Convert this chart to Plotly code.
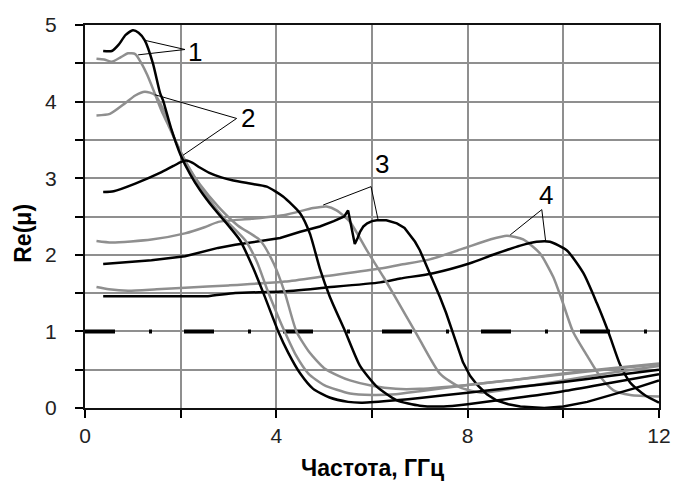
import plotly.graph_objects as go

# ---------------- data ----------------
b1_x = [0.38, 0.56, 0.7, 0.85, 1.0, 1.12, 1.25, 1.42, 1.57, 1.63, 1.8, 2.0, 2.2, 2.4, 2.7, 3.0, 3.24, 3.5, 3.73, 4.04, 4.25, 4.5, 4.77, 5.1, 5.5, 5.8, 6.5, 7.0, 8.0, 9.0, 10.0, 11.0, 12.0]
b1_y = [4.66, 4.66, 4.74, 4.87, 4.93, 4.9, 4.8, 4.5, 4.11, 4.02, 3.65, 3.3, 3.05, 2.85, 2.6, 2.38, 2.19, 1.85, 1.5, 1.0, 0.72, 0.45, 0.25, 0.14, 0.08, 0.07, 0.1, 0.13, 0.2, 0.27, 0.34, 0.42, 0.5]

g1_x = [0.24, 0.4, 0.56, 0.75, 0.9, 1.05, 1.18, 1.3, 1.45, 1.6, 1.75, 1.9, 2.1, 2.3, 2.6, 2.9, 3.35, 3.6, 3.8, 4.0, 4.15, 4.4, 4.67, 5.0, 5.54, 6.0, 6.5, 7.0, 8.0, 9.0, 10.0, 11.0, 12.0]
g1_y = [4.56, 4.55, 4.52, 4.58, 4.63, 4.62, 4.5, 4.35, 4.12, 3.88, 3.68, 3.48, 3.22, 3.0, 2.72, 2.48, 2.19, 1.9, 1.56, 1.25, 1.03, 0.7, 0.45, 0.3, 0.19, 0.17, 0.18, 0.22, 0.3, 0.37, 0.44, 0.51, 0.57]

g2_x = [0.24, 0.52, 0.84, 1.05, 1.25, 1.46, 1.67, 1.88, 2.16, 2.4, 2.8, 3.2, 3.66, 3.95, 4.18, 4.42, 4.7, 5.0, 5.3, 5.54, 6.0, 6.5, 7.0, 8.0, 9.0, 10.0, 11.0, 12.0]
g2_y = [3.82, 3.84, 3.98, 4.08, 4.13, 4.09, 3.85, 3.5, 3.15, 2.92, 2.62, 2.38, 2.19, 1.88, 1.5, 1.0, 0.72, 0.52, 0.42, 0.36, 0.29, 0.25, 0.25, 0.3, 0.37, 0.45, 0.52, 0.58]

b2_x = [0.38, 0.6, 1.05, 1.6, 1.85, 2.0, 2.12, 2.25, 2.4, 2.6, 2.85, 3.1, 3.45, 3.8, 4.14, 4.5, 4.7, 4.91, 5.12, 5.44, 5.75, 6.1, 6.52, 7.0, 7.5, 8.0, 9.0, 10.0, 11.0, 12.0]
b2_y = [2.82, 2.83, 2.93, 3.08, 3.16, 3.21, 3.23, 3.2, 3.14, 3.07, 3.01, 2.97, 2.93, 2.89, 2.76, 2.54, 2.28, 1.82, 1.45, 1.0, 0.55, 0.28, 0.1, 0.03, 0.02, 0.05, 0.13, 0.22, 0.33, 0.44]

g3_x = [0.24, 0.56, 1.39, 2.09, 2.5, 2.79, 3.48, 4.18, 4.77, 5.05, 5.26, 5.54, 5.89, 6.24, 6.52, 6.9, 7.0, 7.42, 7.84, 8.3, 9.0, 10.0, 11.0, 12.0]
g3_y = [2.18, 2.16, 2.2, 2.28, 2.36, 2.43, 2.47, 2.52, 2.61, 2.63, 2.58, 2.43, 2.06, 1.71, 1.41, 1.0, 0.89, 0.45, 0.27, 0.2, 0.26, 0.36, 0.46, 0.55]

b3_x = [0.38, 0.8, 1.39, 2.09, 2.5, 2.78, 3.14, 3.6, 4.08, 4.5, 4.91, 5.2, 5.42, 5.5, 5.64, 5.7, 5.75, 5.82, 5.9, 6.0, 6.1, 6.3, 6.52, 6.68, 6.8, 6.9, 7.0, 7.1, 7.21, 7.32, 7.42, 7.55, 7.65, 7.78, 7.9, 8.05, 8.2, 8.4, 8.6, 8.85, 9.1, 9.6, 10.0, 10.5, 11.0, 11.5, 12.0]
b3_y = [1.88, 1.9, 1.93, 1.98, 2.04, 2.09, 2.13, 2.17, 2.22, 2.3, 2.37, 2.44, 2.5, 2.58, 2.14, 2.22, 2.3, 2.37, 2.41, 2.44, 2.45, 2.45, 2.41, 2.35, 2.26, 2.17, 2.06, 1.92, 1.76, 1.6, 1.45, 1.24, 1.05, 0.82, 0.6, 0.42, 0.3, 0.18, 0.1, 0.05, 0.02, 0.0, 0.02, 0.08, 0.17, 0.26, 0.36]

g4_x = [0.24, 0.5, 0.9, 1.5, 2.09, 3.0, 4.18, 5.0, 6.17, 6.59, 7.21, 7.9, 8.47, 8.82, 9.16, 9.51, 9.79, 9.97, 10.2, 10.5, 10.77, 11.05, 11.4, 12.0]
g4_y = [1.58, 1.55, 1.53, 1.55, 1.57, 1.6, 1.65, 1.72, 1.82, 1.87, 1.94, 2.08, 2.2, 2.25, 2.2, 2.02, 1.71, 1.41, 1.0, 0.68, 0.41, 0.23, 0.17, 0.15]

b4_x = [0.38, 1.0, 2.0, 2.57, 3.14, 4.1, 5.0, 6.17, 6.59, 7.28, 8.05, 8.53, 9.1, 9.44, 9.72, 10.07, 10.42, 10.7, 10.9, 11.0, 11.19, 11.4, 11.7, 12.0]
b4_y = [1.46, 1.46, 1.46, 1.46, 1.5, 1.52, 1.57, 1.64, 1.69, 1.76, 1.89, 2.0, 2.12, 2.17, 2.17, 2.06, 1.76, 1.37, 1.06, 0.89, 0.56, 0.33, 0.17, 0.07]

ref_x = [0, 12]
ref_y = [1, 1]

# label annotations: text positions and leader lines (end, apex, end)
label_text = ["1", "2", "3", "4"]
label_x = [2.30, 3.41, 6.20, 9.63]
label_y = [4.65, 3.79, 3.19, 2.78]
leader_x = [[1.25, 2.09, 1.11], [1.46, 3.17, 2.05], [4.98, 5.98, 6.13], [8.89, 9.55, 9.63]]
leader_y = [[4.80, 4.68, 4.61], [4.09, 3.78, 3.30], [2.65, 2.89, 2.45], [2.26, 2.59, 2.18]]

x_tickvals = [0, 2, 4, 6, 8, 10, 12]
x_ticktext = ["0", "", "4", "", "8", "", "12"]
y_tickvals = [0, 0.5, 1, 1.5, 2, 2.5, 3, 3.5, 4, 4.5, 5]
y_ticktext = ["0", "", "1", "", "2", "", "3", "", "4", "", "5"]

x_title = "Частота, ГГц"
y_title = "Re(μ)"

BLACK = "#000000"
GRAY = "#8f8f8f"
FONT = "Liberation Sans, Arial, sans-serif"

fig = go.Figure()

# reference dash-dot line at 1
fig.add_trace(go.Scatter(x=ref_x, y=ref_y, mode="lines",
                         line=dict(color=BLACK, width=4, dash="30px,34px,3px,32px"),
                         hoverinfo="skip", showlegend=False))

series = [
    (g4_x, g4_y, GRAY, "spline"),
    (b4_x, b4_y, BLACK, "spline"),
    (g3_x, g3_y, GRAY, "spline"),
    (b3_x, b3_y, BLACK, "linear"),
    (g2_x, g2_y, GRAY, "spline"),
    (g1_x, g1_y, GRAY, "spline"),
    (b2_x, b2_y, BLACK, "spline"),
    (b1_x, b1_y, BLACK, "spline"),
]
for xs, ys, col, shp in series:
    line = dict(color=col, width=2.5, shape=shp)
    if shp == "spline":
        line["smoothing"] = 0.6
    fig.add_trace(go.Scatter(x=xs, y=ys, mode="lines", line=line,
                             showlegend=False, hoverinfo="skip"))

for lx, ly in zip(leader_x, leader_y):
    fig.add_trace(go.Scatter(x=lx, y=ly, mode="lines",
                             line=dict(color=BLACK, width=1),
                             showlegend=False, hoverinfo="skip"))

for t, x, y in zip(label_text, label_x, label_y):
    fig.add_annotation(x=x, y=y, text=t, showarrow=False,
                       font=dict(family=FONT, size=26, color=BLACK))

# axis titles as paper annotations
fig.add_annotation(xref="paper", yref="paper", x=0.5, y=-0.156, text="<b>" + x_title + "</b>",
                   showarrow=False, xanchor="center", yanchor="middle",
                   font=dict(family=FONT, size=23, color=BLACK))
fig.add_annotation(xref="paper", yref="paper", x=-0.108, y=0.455, text="<b>" + y_title + "</b>",
                   showarrow=False, xanchor="center", yanchor="middle", textangle=-90,
                   font=dict(family=FONT, size=23, color=BLACK))

axis_common = dict(
    showline=True, linecolor="#111111", linewidth=2, mirror=True,
    ticks="outside", ticklen=8, tickwidth=1.5, tickcolor=BLACK,
    showgrid=True, gridcolor="#8f8f8f", gridwidth=1.5,
    zeroline=False, automargin=False,
    tickfont=dict(family=FONT, size=21, color="#222222"),
)

fig.update_xaxes(range=[0, 12], tickmode="array", tickvals=x_tickvals, ticktext=x_ticktext,
                 **axis_common)
fig.update_yaxes(range=[0, 5], tickmode="array", tickvals=y_tickvals, ticktext=y_ticktext,
                 ticklabelstandoff=14, **axis_common)

fig.update_layout(
    width=675, height=486,
    margin=dict(l=85, r=16, t=25, b=78),
    paper_bgcolor="white", plot_bgcolor="white",
    showlegend=False,
)

# remove the default page margin so the figure fills the window exactly
fig.write_html("out.html",
               config={"displayModeBar": False},
               post_script="document.body.style.margin='0';document.body.style.overflow='hidden';")
